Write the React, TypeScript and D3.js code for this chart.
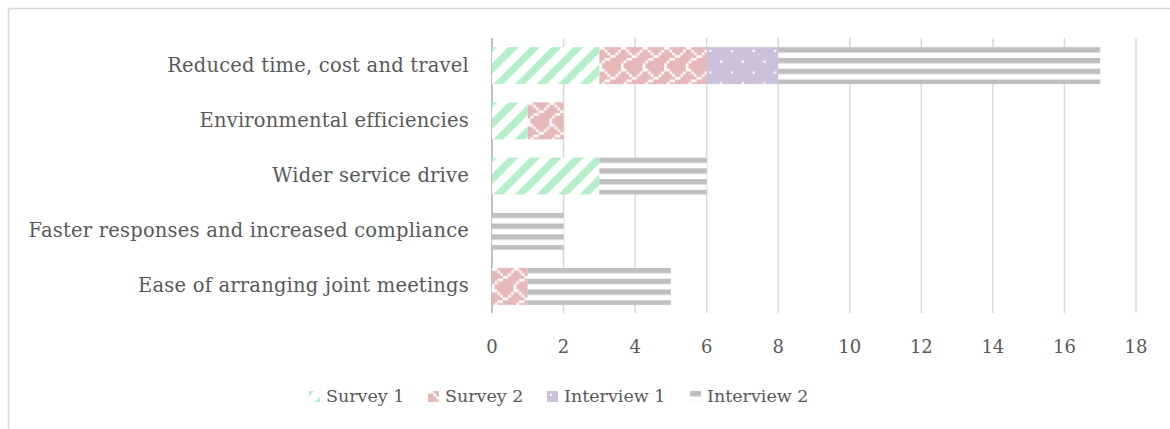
import React from "react";
import * as d3 from "d3";

const categories = [
  "Reduced time, cost and travel",
  "Environmental efficiencies",
  "Wider service drive",
  "Faster responses and increased compliance",
  "Ease of arranging joint meetings",
];
const seriesNames = ["Survey 1", "Survey 2", "Interview 1", "Interview 2"];
const survey1 = [3, 1, 3, 0, 0];
const survey2 = [3, 1, 0, 0, 1];
const interview1 = [2, 0, 0, 0, 0];
const interview2 = [9, 0, 3, 2, 4];
const xTicks = [0, 2, 4, 6, 8, 10, 12, 14, 16, 18];

const W = 1170;
const H = 429;
const FONT = "'DejaVu Serif', serif";
const TEXT = "#595959";
const GRID = "#d9d9d9";
const PX = 2.7; // size of one pattern cell

// 8x8 shingle bitmap, set bits are drawn white
const SHINGLE = [0x03, 0x84, 0x48, 0x30, 0x0c, 0x02, 0x01, 0x01];

type Fill = (id: string, x: number, y: number) => React.ReactNode;

const fills: Fill[] = [
  // Survey 1: wide upward diagonal, green on white
  (id, x, y) => (
    <pattern key={id} id={id} patternUnits="userSpaceOnUse" x={x} y={y} width={8 * PX} height={8 * PX}>
      <rect width={8 * PX} height={8 * PX} fill="#ffffff" />
      <path
        d={`M0,${8 * PX} L${8 * PX},0 M${-4 * PX},${4 * PX} L${4 * PX},${-4 * PX} M${4 * PX},${12 * PX} L${12 * PX},${4 * PX}`}
        stroke="#b3f0c9"
        strokeWidth={7.2}
      />
    </pattern>
  ),
  // Survey 2: shingle, white on pink
  (id, x, y) => (
    <pattern key={id} id={id} patternUnits="userSpaceOnUse" x={x} y={y} width={8 * PX} height={8 * PX}>
      <rect width={8 * PX} height={8 * PX} fill="#e6b9b8" />
      {SHINGLE.flatMap((row, r) =>
        d3.range(8).filter((c) => (row >> c) & 1).map((c) => (
          <rect key={`${r}-${c}`} x={c * PX} y={r * PX} width={PX} height={PX} fill="#ffffff" />
        ))
      )}
    </pattern>
  ),
  // Interview 1: lavender with sparse white dots
  (id, x, y) => (
    <pattern key={id} id={id} patternUnits="userSpaceOnUse" x={x} y={y} width={8 * PX} height={8 * PX}>
      <rect width={8 * PX} height={8 * PX} fill="#ccc1da" />
      <rect x={PX} y={PX} width={PX * 0.8} height={PX * 0.8} fill="#ffffff" />
      <rect x={5 * PX} y={5 * PX} width={PX * 0.8} height={PX * 0.8} fill="#ffffff" />
    </pattern>
  ),
  // Interview 2: horizontal grey stripes
  (id, x, y) => (
    <pattern key={id} id={id} patternUnits="userSpaceOnUse" x={x} y={y} width={8 * PX} height={4 * PX}>
      <rect width={8 * PX} height={4 * PX} fill="#ffffff" />
      <rect width={8 * PX} height={2 * PX} fill="#bfbfbf" />
    </pattern>
  ),
];

const legendX = [309, 428, 547, 690];

export default function App() {
  const x = d3.scaleLinear().domain([0, 18]).range([492, 1136]);
  const y = d3
    .scaleBand<string>()
    .domain(categories)
    .range([38, 314])
    .paddingInner(0.33)
    .paddingOuter(0.165);

  const table = categories.map((c, i) => ({
    cat: c,
    s1: survey1[i],
    s2: survey2[i],
    i1: interview1[i],
    i2: interview2[i],
  }));
  const stack = d3.stack<any>().keys(["s1", "s2", "i1", "i2"])(table);

  const defs: React.ReactNode[] = [];
  const bars: React.ReactNode[] = [];
  stack.forEach((layer, si) => {
    layer.forEach((d, ci) => {
      const v = d[1] - d[0];
      if (v <= 0) return;
      const bx = x(d[0]);
      const by = y(categories[ci])!;
      const id = `fill-${si}-${ci}`;
      defs.push(fills[si](id, bx, by));
      bars.push(
        <rect key={id} x={bx} y={by} width={x(d[1]) - bx} height={y.bandwidth()} fill={`url(#${id})`} />
      );
    });
  });

  const legendY = 396;
  seriesNames.forEach((_, si) => {
    defs.push(fills[si](`leg-${si}`, legendX[si], legendY - 5));
  });

  return (
    <div style={{ position: "fixed", left: 0, top: 0, width: W, height: H, overflow: "hidden" }}>
      <svg width={W} height={H} style={{ display: "block", background: "#fff" }}>
        <defs>{defs}</defs>
        {/* chart frame */}
        <line x1={8.5} y1={8.5} x2={W} y2={8.5} stroke={GRID} strokeWidth={1.5} />
        <line x1={8.5} y1={8.5} x2={8.5} y2={H} stroke={GRID} strokeWidth={1.5} />

        {/* vertical gridlines */}
        {xTicks.map((t) => (
          <line
            key={t}
            x1={x(t)}
            x2={x(t)}
            y1={38}
            y2={313}
            stroke={t === 0 ? "#bfbfbf" : GRID}
            strokeWidth={t === 0 ? 2 : 1.5}
          />
        ))}

        {bars}

        {/* category labels */}
        {categories.map((c) => (
          <text
            key={c}
            x={469}
            y={y(c)! + y.bandwidth() / 2 + 6}
            textAnchor="end"
            fontFamily={FONT}
            fontSize={19.5}
            letterSpacing={0.2}
            fill={TEXT}
          >
            {c}
          </text>
        ))}

        {/* tick labels */}
        {xTicks.map((t) => (
          <text key={t} x={x(t)} y={353} textAnchor="middle" fontFamily={FONT} fontSize={18} fill={TEXT}>
            {t}
          </text>
        ))}

        {/* legend */}
        {seriesNames.map((n, si) => (
          <g key={n}>
            <rect x={legendX[si]} y={legendY - 5} width={11} height={11} fill={`url(#leg-${si})`} />
            <text x={legendX[si] + 17} y={legendY + 6} fontFamily={FONT} fontSize={17.5} fill={TEXT}>
              {n}
            </text>
          </g>
        ))}
      </svg>
    </div>
  );
}
